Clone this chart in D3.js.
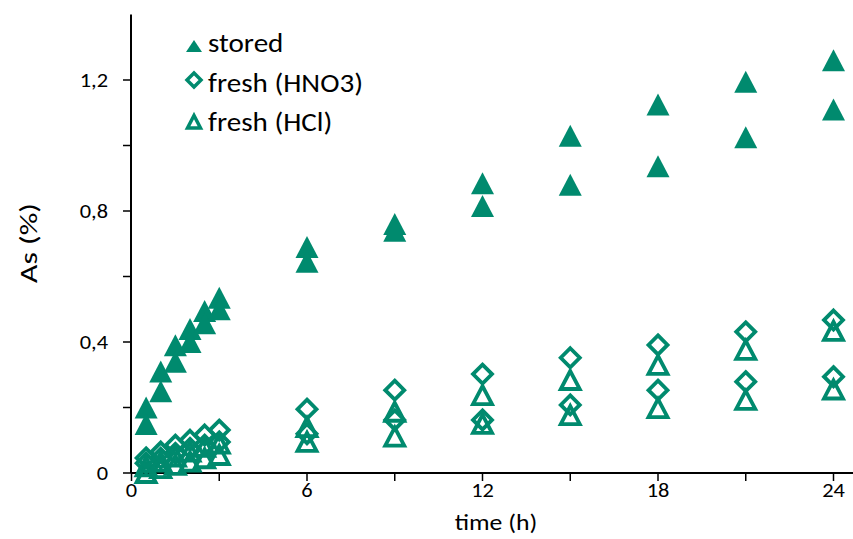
<!DOCTYPE html>
<meta charset="utf-8">
<script src="https://d3js.org/d3.v7.min.js"></script>
<style>
  body { margin: 0; background: #fff; }
  text { font-family: Carlito, Calibri, Lato, sans-serif; fill: #000; }
</style>
<div id="my_dataviz"></div>
<script>

// sampling times (h)
var times = [0.5, 1, 1.5, 2, 2.5, 3, 6, 9, 12, 15, 18, 21, 24];

// As (%) - two replicates per series
var stored1 = [0.20, 0.31, 0.39, 0.44, 0.495, 0.535, 0.69, 0.76, 0.885, 1.03, 1.125, 1.195, 1.26];
var stored2 = [0.15, 0.25, 0.34, 0.40, 0.457, 0.50, 0.645, 0.74, 0.815, 0.88, 0.937, 1.025, 1.11];
var hno3_1 = [0.046, 0.064, 0.085, 0.10, 0.116, 0.131, 0.195, 0.253, 0.302, 0.352, 0.391, 0.431, 0.467];
var hno3_2 = [0.03, 0.045, 0.06, 0.075, 0.085, 0.095, 0.12, 0.162, 0.162, 0.208, 0.253, 0.279, 0.294];
var hcl_1 = [0.02, 0.035, 0.05, 0.065, 0.08, 0.09, 0.14, 0.187, 0.238, 0.284, 0.33, 0.376, 0.434];
var hcl_2 = [0.0, 0.015, 0.025, 0.035, 0.045, 0.055, 0.095, 0.111, 0.15, 0.177, 0.198, 0.223, 0.255];

var xTicks = [0, 3, 6, 9, 12, 15, 18, 21, 24];
var xLabels = [0, 6, 12, 18, 24];
var yTicks = [0, 0.2, 0.4, 0.6, 0.8, 1.0, 1.2];
var yLabels = [0, 0.4, 0.8, 1.2];

var legendNames = ["stored", "fresh (HNO3)", "fresh (HCl)"];

var W = 853, H = 539;
var green = "#008a6e";

var svg = d3.select("#my_dataviz")
  .append("svg")
    .attr("width", W)
    .attr("height", H);

var x = d3.scaleLinear().domain([0, 24]).range([131.5, 833.5]);
var y = d3.scaleLinear().domain([0, 1.4]).range([473, 14.5]);

var fmt = function(d) { return d === 0 ? "0" : d3.format(".1f")(d).replace(".", ","); };

// text is a bit wider than plain Calibri in the original, so stretch it
var stretch = 1.12;

// X axis
var xAxis = svg.append("g")
  .attr("transform", "translate(0,473)");
xAxis.append("line")
  .attr("x1", x(0)).attr("x2", W)
  .attr("stroke", "#000").attr("stroke-width", 2);
xAxis.selectAll(".tk").data(xTicks).enter().append("line")
  .attr("x1", function(d) { return x(d) }).attr("x2", function(d) { return x(d) })
  .attr("y1", 0).attr("y2", 8)
  .attr("stroke", "#000").attr("stroke-width", 1.5);
xAxis.selectAll(".lb").data(xLabels).enter().append("text")
  .attr("transform", function(d) { return "translate(" + x(d) + ",24) scale(" + stretch + ",1)" })
  .attr("text-anchor", "middle")
  .style("font-size", "20px")
  .text(function(d) { return d });

// Y axis
var yAxis = svg.append("g")
  .attr("transform", "translate(131,0)");
yAxis.append("line")
  .attr("y1", y(0)).attr("y2", y(1.4))
  .attr("stroke", "#000").attr("stroke-width", 2);
yAxis.selectAll(".tk").data(yTicks).enter().append("line")
  .attr("y1", function(d) { return y(d) }).attr("y2", function(d) { return y(d) })
  .attr("x1", -8).attr("x2", 0)
  .attr("stroke", "#000").attr("stroke-width", 1.5);
yAxis.selectAll(".lb").data(yLabels).enter().append("text")
  .attr("transform", function(d) { return "translate(-23," + y(d) + ") scale(" + stretch + ",1)" })
  .attr("dy", "0.33em")
  .attr("text-anchor", "end")
  .style("font-size", "20px")
  .text(fmt);

// axis titles
svg.append("text")
  .attr("transform", "translate(37,243) rotate(-90) scale(1.27,1)")
  .attr("text-anchor", "middle")
  .style("font-size", "25px")
  .text("As (%)");
svg.append("text")
  .attr("transform", "translate(496,530) scale(" + stretch + ",1)")
  .attr("text-anchor", "middle")
  .style("font-size", "23px")
  .text("time (h)");

// marker shapes, centred on their bounding box
var shapeLine = d3.line().curve(d3.curveLinearClosed);
var triFill = shapeLine([[0, -11], [-11.5, 11], [11.5, 11]]);
var triOpen = shapeLine([[0, -9], [-9.5, 9], [9.5, 9]]);
var diaOpen = shapeLine([[0, -9.5], [9.5, 0], [0, 9.5], [-9.5, 0]]);

function pts(vals) {
  return times.map(function(t, i) { return {t: t, v: vals[i]} });
}

function drawOpen(vals, shape) {
  svg.append("g").selectAll("path").data(pts(vals)).enter().append("path")
    .attr("d", shape)
    .attr("transform", function(d) { return "translate(" + x(d.t) + "," + y(d.v) + ")" })
    .attr("fill", "none")
    .attr("stroke", green)
    .attr("stroke-width", 3.8)
    .attr("stroke-linejoin", "miter");
}

drawOpen(hcl_2, triOpen);
drawOpen(hno3_2, diaOpen);
drawOpen(hcl_1, triOpen);
drawOpen(hno3_1, diaOpen);

[stored1, stored2].forEach(function(vals) {
  svg.append("g").selectAll("path").data(pts(vals)).enter().append("path")
    .attr("d", triFill)
    .attr("transform", function(d) { return "translate(" + x(d.t) + "," + y(d.v) + ")" })
    .attr("fill", green);
});

// legend
var legend = svg.append("g");
legend.append("path")
  .attr("d", shapeLine([[0, -6], [-8, 6], [8, 6]]))
  .attr("transform", "translate(194,46)")
  .attr("fill", green);
legend.append("path")
  .attr("d", shapeLine([[0, -7], [7, 0], [0, 7], [-7, 0]]))
  .attr("transform", "translate(194,80)")
  .attr("fill", "none").attr("stroke", green).attr("stroke-width", 3.5);
legend.append("path")
  .attr("d", shapeLine([[0, -6.5], [-6.5, 6], [6.5, 6]]))
  .attr("transform", "translate(194,122)")
  .attr("fill", "none").attr("stroke", green).attr("stroke-width", 3.5);
var legY = [52, 92, 131];
legend.selectAll("text").data(legendNames).enter().append("text")
  .attr("transform", function(d, i) { return "translate(208," + legY[i] + ") scale(" + stretch + ",1)" })
  .style("font-size", "26px")
  .text(function(d) { return d });

</script>
